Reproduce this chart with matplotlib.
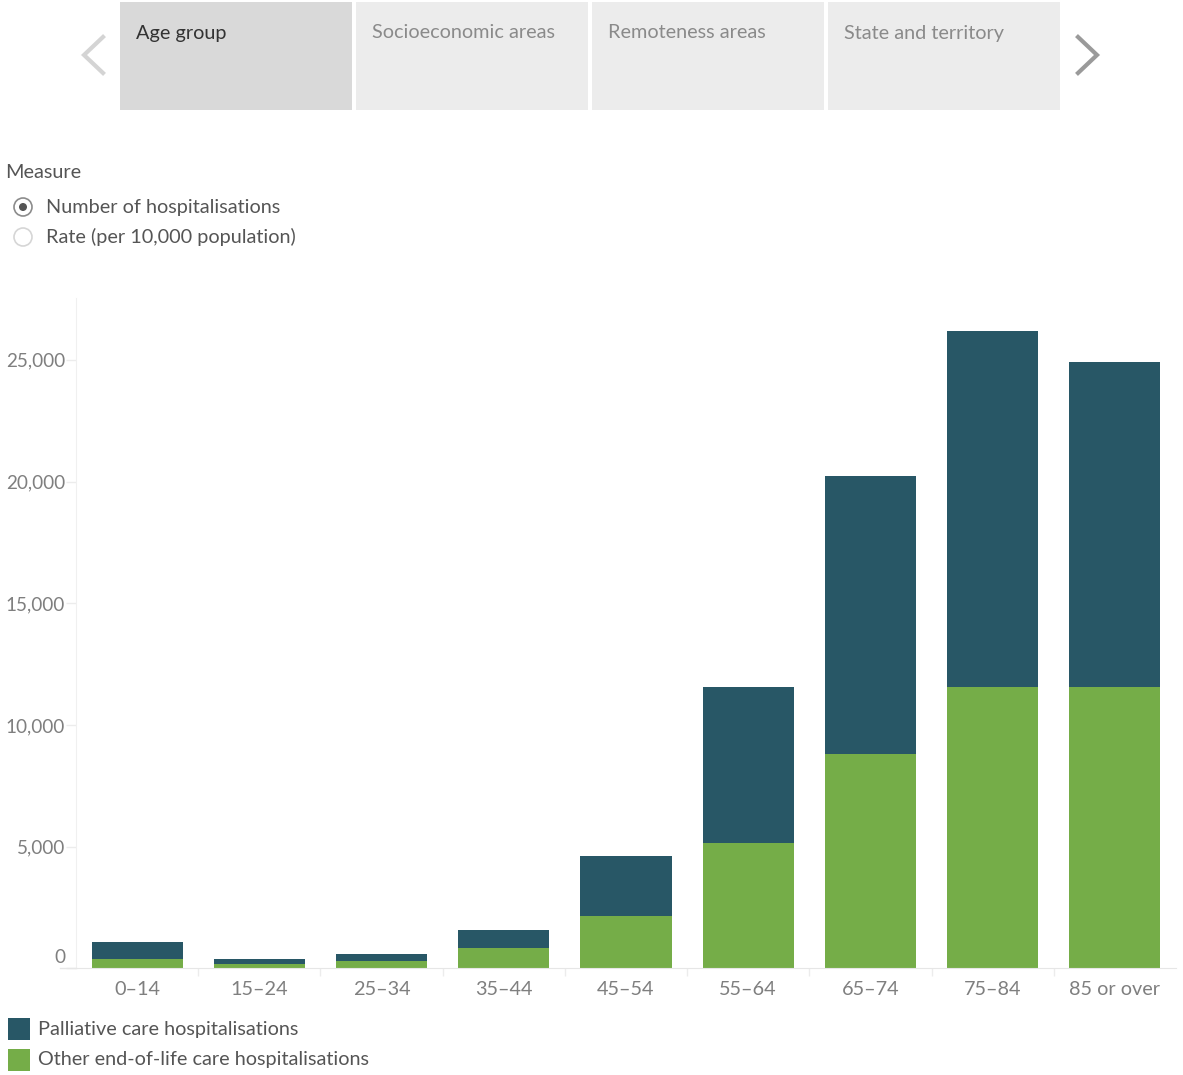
import matplotlib.pyplot as plt
import matplotlib.transforms as mtransforms
from matplotlib.lines import Line2D
from matplotlib.patches import Circle, Rectangle

# Hospitalisations by age group
age_groups = ["0–14", "15–24", "25–34", "35–44", "45–54", "55–64", "65–74", "75–84", "85 or over"]
other_eol = [370, 190, 310, 825, 2150, 5140, 8810, 11550, 11550]
palliative = [700, 185, 270, 765, 2480, 6410, 11430, 14650, 13380]

tabs = ["Age group", "Socioeconomic areas", "Remoteness areas", "State and territory"]
measures = ["Number of hospitalisations", "Rate (per 10,000 population)"]
series_names = ["Palliative care hospitalisations", "Other end-of-life care hospitalisations"]

DARK = "#285766"
GREEN = "#75ad48"
W, H = 1183, 1075
FS = 14.3

plt.rcParams["font.family"] = ["Lato", "DejaVu Sans"]

fig = plt.figure(figsize=(W / 100, H / 100), dpi=100)
# pixel coordinates, origin at top-left
px = mtransforms.Affine2D().scale(1 / W, -1 / H).translate(0, 1) + fig.transFigure

# ---- tab strip ----
tab_x = [120, 356, 592, 828]
for i, (x0, name) in enumerate(zip(tab_x, tabs)):
    face = "#d9d9d9" if i == 0 else "#ececec"
    fig.add_artist(Rectangle((x0, 2), 232, 108, transform=px, facecolor=face, edgecolor="none"))
    fig.text(x0 + 16, 33, name, transform=px, fontsize=FS, va="center",
             color="#333333" if i == 0 else "#8a8a8a")

fig.add_artist(Line2D([103, 84, 103], [37, 55, 73], transform=px, color="#d4d4d4", lw=3,
                      solid_joinstyle="miter"))
fig.add_artist(Line2D([1078, 1097, 1078], [37, 55, 73], transform=px, color="#9a9a9a", lw=3,
                      solid_joinstyle="miter"))

# ---- measure selector ----
fig.text(5, 173, "Measure", transform=px, fontsize=FS, va="center", color="#555555")
for j, (label, y) in enumerate(zip(measures, [207, 237])):
    fig.add_artist(Circle((23, y), 9, transform=px, facecolor="white",
                          edgecolor="#8c8c8c" if j == 0 else "#d6d6d6", lw=1.2))
    if j == 0:
        fig.add_artist(Circle((23, y), 4, transform=px, facecolor="#555555", edgecolor="none"))
    fig.text(46, y, label, transform=px, fontsize=FS, va="center", color="#555555")

# ---- chart ----
ax_left, ax_right, ax_top, ax_base = 76, 1176, 298, 968.4
ax = fig.add_axes([ax_left / W, 1 - ax_base / H, (ax_right - ax_left) / W, (ax_base - ax_top) / H])

x = range(len(age_groups))
ax.bar(x, other_eol, width=0.745, color=GREEN, edgecolor="none", label=series_names[1])
ax.bar(x, palliative, width=0.745, bottom=other_eol, color=DARK, edgecolor="none",
       label=series_names[0])

ax.set_xlim(-0.5, len(age_groups) - 0.5)
ax.set_ylim(0, 27540)

yticks = [0, 5000, 10000, 15000, 20000, 25000]
ax.set_yticks(yticks)
ax.set_yticklabels([f"{v:,}" for v in yticks])
ax.tick_params(axis="y", length=7, color="#ececec", width=1, pad=1, labelsize=13.6, labelcolor="#7f7f7f")
# zero label sits a little above the baseline
zero_lbl = ax.get_yticklabels()[0]
zero_lbl.set_transform(zero_lbl.get_transform() + mtransforms.ScaledTranslation(0, 0.12, fig.dpi_scale_trans))

ax.set_xticks(list(x))
ax.set_xticklabels(age_groups)
ax.set_xticks([i + 0.5 for i in range(len(age_groups) - 1)], minor=True)
ax.tick_params(axis="x", which="major", length=0, pad=9, labelsize=FS, labelcolor="#7f7f7f")
ax.tick_params(axis="x", which="minor", length=6, color="#ececec", width=1)

for side in ["top", "right"]:
    ax.spines[side].set_visible(False)
ax.spines["left"].set_color("#f0f0f0")
ax.spines["bottom"].set_color("#e6e6e6")
fig.add_artist(Line2D([60, ax_left], [ax_base, ax_base], transform=px, color="#e6e6e6", lw=1))

# ---- legend ----
for k, (name, color, y) in enumerate(zip(series_names, [DARK, GREEN], [1029, 1060])):
    fig.add_artist(Rectangle((8, y - 11), 22, 22, transform=px, facecolor=color, edgecolor="none"))
    fig.text(38, y, name, transform=px, fontsize=FS, va="center", color="#555555")

fig.savefig("out.png", dpi=100)
